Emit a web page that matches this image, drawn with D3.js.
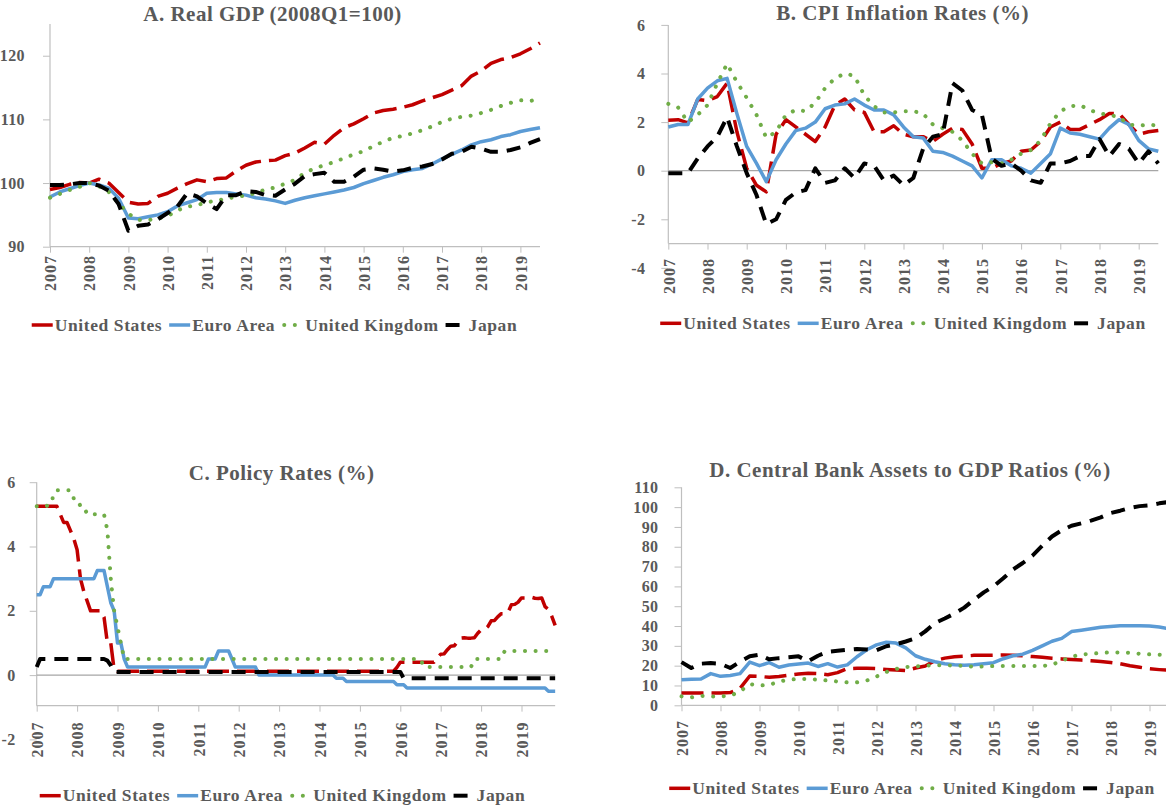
<!DOCTYPE html>
<html><head><meta charset="utf-8">
<script src="https://cdn.jsdelivr.net/npm/d3@7/dist/d3.min.js"></script>
<style>
html,body{margin:0;padding:0;background:#fff;}
svg{display:block;}
text{font-family:"Liberation Serif","Times New Roman",serif;font-weight:bold;fill:#595959;}
</style></head><body>
<svg id="chart" width="1166" height="807"></svg>
<script>
// ---------- labels ----------
const yearLabels = ["2007","2008","2009","2010","2011","2012","2013","2014","2015","2016","2017","2018","2019"];
const seriesNames = ["United States","Euro Area","United Kingdom","Japan"];
const titles = ["A. Real GDP (2008Q1=100)","B. CPI Inflation Rates (%)","C. Policy Rates (%)","D. Central Bank Assets to GDP Ratios (%)"];

// ---------- Panel A: Real GDP, quarterly 2007Q1-2019Q3 ----------
const gdpUS = [99.0,99.3,99.8,100.1,100.0,100.6,100.0,98.5,97.0,96.7,96.8,97.9,98.4,99.2,99.9,100.5,100.2,100.7,100.8,101.9,102.8,103.3,103.5,103.6,104.3,104.7,105.5,106.4,106.1,107.5,108.7,109.3,110.1,111.0,111.4,111.6,111.9,112.3,112.9,113.4,113.9,114.6,115.3,116.8,117.6,118.8,119.4,119.7,120.3,121.1,122.0];
const gdpEA = [97.8,98.6,99.1,99.6,100.0,99.7,99.2,97.6,94.5,94.4,94.7,95.0,95.5,96.4,96.9,97.4,98.4,98.5,98.5,98.3,98.1,97.7,97.5,97.2,96.8,97.3,97.7,98.0,98.3,98.6,98.9,99.3,99.9,100.4,100.9,101.3,101.8,102.1,102.3,103.0,103.8,104.5,105.2,106.0,106.5,106.8,107.3,107.6,108.1,108.4,108.7];
const gdpUK = [97.7,98.3,98.9,99.4,100.0,99.5,98.6,96.8,95.2,94.2,94.2,94.4,94.8,95.7,96.3,96.5,97.0,97.2,97.6,97.8,98.1,98.4,99.0,99.3,99.9,100.5,101.6,102.3,102.8,103.3,103.9,104.5,105.0,105.8,106.5,107.1,107.4,107.8,108.3,108.9,109.6,110.1,110.4,110.6,111.0,111.5,112.1,112.6,113.0,112.9,113.2];
const gdpJP = [99.7,99.7,99.8,100.0,100.0,99.6,98.8,96.7,92.5,93.3,93.5,94.3,95.3,96.3,98.4,97.9,96.8,95.9,98.1,98.1,98.7,98.6,98.1,98.0,99.0,99.9,101.1,101.4,101.6,100.2,100.2,101.0,102.1,102.3,102.1,101.8,102.0,102.4,102.6,103.0,103.7,104.6,104.9,105.7,105.4,104.9,104.9,105.2,105.6,106.3,106.9];

// ---------- Panel B: CPI inflation, quarterly 2007Q1-2019Q3 ----------
const cpiUS = [2.08,2.1,1.97,2.93,2.88,3.05,3.6,1.6,0.1,-0.6,-0.87,1.5,2.1,1.8,1.5,1.2,1.8,2.7,2.95,2.5,2.4,1.6,1.6,1.85,1.5,1.4,1.4,1.2,1.5,1.75,1.7,1.1,0.1,0.1,0.3,0.4,0.8,0.85,1.2,1.8,2.0,1.7,1.7,1.9,2.1,2.35,2.35,1.9,1.5,1.6,1.65];
const cpiEA = [1.8,1.9,1.9,2.95,3.4,3.7,3.8,2.35,1.0,0.3,-0.45,0.45,1.1,1.65,1.75,2.0,2.55,2.7,2.75,2.95,2.7,2.5,2.5,2.3,1.8,1.4,1.35,0.8,0.75,0.6,0.4,0.2,-0.3,0.45,0.45,0.2,0.1,-0.1,0.3,0.7,1.75,1.55,1.5,1.4,1.3,1.75,2.1,1.9,1.25,0.9,0.8];
const cpiUK = [2.75,2.6,2.0,2.3,2.7,3.6,4.4,3.65,3.0,2.3,1.35,1.6,2.3,2.5,2.45,2.8,3.4,3.8,4.0,3.9,3.1,2.65,2.4,2.4,2.45,2.45,2.35,1.9,1.75,1.6,1.25,0.7,0.3,0.35,0.3,0.45,0.7,0.85,1.25,1.95,2.45,2.65,2.7,2.5,2.35,2.3,2.2,1.9,1.85,1.9,1.85];
const cpiJP = [-0.1,-0.1,-0.1,0.5,1.0,1.4,2.2,1.0,-0.1,-1.0,-2.2,-2.0,-1.2,-0.9,-0.8,0.1,-0.5,-0.4,0.1,-0.3,0.3,0.2,-0.4,-0.2,-0.6,-0.3,0.9,1.4,1.5,3.6,3.3,2.5,2.3,0.5,0.2,0.3,0.0,-0.4,-0.5,0.3,0.3,0.4,0.6,0.6,1.3,0.6,1.1,0.9,0.3,0.8,0.3];

// ---------- Panel C: Policy rates, monthly 2007M1-2019M11 ----------
const rateUS = [
5.25,5.25,5.25,5.25,5.25,5.25,5.25,5.0,4.75,4.75,4.5,4.25,
3.9,3.0,2.6,2.3,2.0,2.0,2.0,2.0,1.8,1.0,1.0,0.16,
0.12,0.12,0.12,0.12,0.12,0.12,0.12,0.12,0.12,0.12,0.12,0.12,
0.12,0.12,0.12,0.12,0.12,0.12,0.12,0.12,0.12,0.12,0.12,0.12,
0.12,0.12,0.12,0.12,0.12,0.12,0.12,0.12,0.12,0.12,0.12,0.12,
0.12,0.12,0.12,0.12,0.12,0.12,0.12,0.12,0.12,0.12,0.12,0.12,
0.12,0.12,0.12,0.12,0.12,0.12,0.12,0.12,0.12,0.12,0.12,0.12,
0.12,0.12,0.12,0.12,0.12,0.12,0.12,0.12,0.12,0.12,0.12,0.12,
0.12,0.12,0.12,0.12,0.12,0.12,0.12,0.12,0.12,0.12,0.12,0.24,
0.4,0.4,0.4,0.4,0.4,0.4,0.4,0.4,0.4,0.4,0.4,0.54,
0.65,0.66,0.79,0.9,0.91,1.04,1.15,1.16,1.15,1.15,1.16,1.3,
1.41,1.42,1.51,1.69,1.7,1.82,1.91,1.91,1.95,2.19,2.2,2.27,
2.4,2.4,2.41,2.42,2.39,2.38,2.4,2.13,2.04,1.83,1.55];
const rateEA = [
2.5,2.5,2.75,2.75,2.75,3.0,3.0,3.0,3.0,3.0,3.0,3.0,
3.0,3.0,3.0,3.0,3.0,3.0,3.25,3.25,3.25,2.75,2.25,2.0,
1.0,1.0,0.5,0.25,0.25,0.25,0.25,0.25,0.25,0.25,0.25,0.25,
0.25,0.25,0.25,0.25,0.25,0.25,0.25,0.25,0.25,0.25,0.25,0.25,
0.25,0.25,0.25,0.5,0.5,0.5,0.75,0.75,0.75,0.75,0.5,0.25,
0.25,0.25,0.25,0.25,0.25,0.25,0,0,0,0,0,0,
0,0,0,0,0,0,0,0,0,0,0,0,
0,0,0,0,0,-0.1,-0.1,-0.1,-0.2,-0.2,-0.2,-0.2,
-0.2,-0.2,-0.2,-0.2,-0.2,-0.2,-0.2,-0.2,-0.2,-0.2,-0.2,-0.3,
-0.3,-0.3,-0.4,-0.4,-0.4,-0.4,-0.4,-0.4,-0.4,-0.4,-0.4,-0.4,
-0.4,-0.4,-0.4,-0.4,-0.4,-0.4,-0.4,-0.4,-0.4,-0.4,-0.4,-0.4,
-0.4,-0.4,-0.4,-0.4,-0.4,-0.4,-0.4,-0.4,-0.4,-0.4,-0.4,-0.4,
-0.4,-0.4,-0.4,-0.4,-0.4,-0.4,-0.4,-0.4,-0.5,-0.5,-0.5];
const rateUK = [
5.25,5.25,5.25,5.25,5.5,5.5,5.75,5.75,5.75,5.75,5.75,5.5,
5.5,5.25,5.25,5.0,5.0,5.0,5.0,5.0,5.0,4.5,3.0,2.0,
1.5,1.0,0.5,0.5,0.5,0.5,0.5,0.5,0.5,0.5,0.5,0.5,
0.5,0.5,0.5,0.5,0.5,0.5,0.5,0.5,0.5,0.5,0.5,0.5,
0.5,0.5,0.5,0.5,0.5,0.5,0.5,0.5,0.5,0.5,0.5,0.5,
0.5,0.5,0.5,0.5,0.5,0.5,0.5,0.5,0.5,0.5,0.5,0.5,
0.5,0.5,0.5,0.5,0.5,0.5,0.5,0.5,0.5,0.5,0.5,0.5,
0.5,0.5,0.5,0.5,0.5,0.5,0.5,0.5,0.5,0.5,0.5,0.5,
0.5,0.5,0.5,0.5,0.5,0.5,0.5,0.5,0.5,0.5,0.5,0.5,
0.5,0.5,0.5,0.5,0.5,0.5,0.5,0.25,0.25,0.25,0.25,0.25,
0.25,0.25,0.25,0.25,0.25,0.25,0.25,0.25,0.25,0.25,0.5,0.5,
0.5,0.5,0.5,0.5,0.5,0.5,0.5,0.75,0.75,0.75,0.75,0.75,
0.75,0.75,0.75,0.75,0.75,0.75,0.75,0.75,0.75,0.75,0.75];
const rateJP = [
0.25,0.5,0.5,0.5,0.5,0.5,0.5,0.5,0.5,0.5,0.5,0.5,
0.5,0.5,0.5,0.5,0.5,0.5,0.5,0.5,0.5,0.45,0.3,0.1,
0.1,0.1,0.1,0.1,0.1,0.1,0.1,0.1,0.1,0.1,0.1,0.1,
0.1,0.1,0.1,0.1,0.1,0.1,0.1,0.1,0.1,0.1,0.1,0.1,
0.1,0.1,0.1,0.1,0.1,0.1,0.1,0.1,0.1,0.1,0.1,0.1,
0.1,0.1,0.1,0.1,0.1,0.1,0.1,0.1,0.1,0.1,0.1,0.1,
0.1,0.1,0.1,0.1,0.1,0.1,0.1,0.1,0.1,0.1,0.1,0.1,
0.1,0.1,0.1,0.1,0.1,0.1,0.1,0.1,0.1,0.1,0.1,0.1,
0.1,0.1,0.1,0.1,0.1,0.1,0.1,0.1,0.1,0.1,0.1,0.1,
0.1,-0.1,-0.1,-0.1,-0.1,-0.1,-0.1,-0.1,-0.1,-0.1,-0.1,-0.1,
-0.1,-0.1,-0.1,-0.1,-0.1,-0.1,-0.1,-0.1,-0.1,-0.1,-0.1,-0.1,
-0.1,-0.1,-0.1,-0.1,-0.1,-0.1,-0.1,-0.1,-0.1,-0.1,-0.1,-0.1,
-0.1,-0.1,-0.1,-0.1,-0.1,-0.1,-0.1,-0.1,-0.1,-0.1,-0.1];

// ---------- Panel D: Central bank assets / GDP, quarterly 2007Q1-2019Q3 ----------
const cbUS = [6.2,6.2,6.2,6.2,6.2,6.4,8.5,14.8,14.6,14.1,14.5,15.2,15.8,16.2,16.0,15.4,16.5,18.5,18.7,18.7,18.5,18.1,17.8,17.5,18.8,19.8,22.5,23.8,24.5,24.8,25.2,25.2,25.3,25.4,25.2,25.0,24.6,24.2,23.7,23.4,23.1,22.8,22.5,22.1,21.6,21.0,20.0,19.2,18.4,18.0,17.7];
const cbEA = [12.9,13.2,13.3,16.0,14.6,15.0,16.0,21.8,20.0,21.5,19.2,20.3,20.8,21.3,19.6,21.0,19.3,20.4,24.5,28.0,30.5,31.8,31.4,29.0,25.0,23.2,22.0,21.0,20.5,20.2,20.5,21.0,21.5,23.5,25.0,25.8,27.7,30.0,32.3,33.8,37.2,37.9,38.6,39.4,39.8,40.2,40.2,40.2,40.0,39.5,38.6];
const cbUK = [4.5,4.0,4.8,4.5,4.5,4.8,7.0,10.7,10.0,10.3,12.0,12.9,13.3,13.3,12.9,12.5,12.0,11.6,11.6,12.5,14.5,16.8,18.3,19.3,19.6,20.0,20.2,20.3,20.0,20.0,19.4,19.6,19.8,19.8,19.8,19.8,19.8,19.8,20.5,22.5,24.5,25.6,26.0,26.4,26.7,26.7,26.5,26.0,25.7,25.5,25.3];
const cbJP = [21.8,18.8,21.0,21.3,21.0,18.8,22.0,24.7,25.5,23.2,23.8,24.2,24.7,22.2,25.0,27.0,27.5,28.0,28.4,28.2,27.8,29.8,30.8,32.2,33.8,37.3,41.5,43.8,46.3,49.3,53.2,57.0,60.0,64.1,68.5,71.8,75.5,80.5,85.2,88.3,90.6,91.8,93.2,94.8,97.0,98.2,99.6,100.5,100.9,101.9,102.6];

// ---------- drawing ----------
const svg = d3.select("#chart");
svg.append("rect").attr("width",1166).attr("height",807).attr("fill","#ffffff");

const styles = [
  {color:"#C00000", width:3.5, dash:"22,8", cap:"butt"},
  {color:"#5B9BD5", width:3.5, dash:null, cap:"butt"},
  {color:"#70AD47", width:4, dash:"0.1,10.5", cap:"round"},
  {color:"#000000", width:4, dash:"14,9", cap:"butt"}
];
const AXIS = "#BFBFBF", ZERO = "#A6A6A6";
const numFmt = d => String(d);   // plain hyphen minus, as in the reference

function drawPanel(cfg){
  const g = svg.append("g");
  const x = d3.scaleLinear().domain([2007,2019]).range([cfg.x0, cfg.x0 + 12*cfg.yearW]);
  const y = d3.scaleLinear().domain(cfg.yDomain).range(cfg.yRange);
  const yearVals = yearLabels.map(Number);

  // title
  g.append("text").attr("x",cfg.titleX).attr("y",cfg.titleY)
    .attr("text-anchor","middle").style("font-size","21px").style("letter-spacing","0.5px")
    .text(cfg.title);

  // y axis ticks + labels
  const ya = g.append("g").attr("transform",`translate(${cfg.x0},0)`)
    .call(d3.axisLeft(y).tickValues(cfg.yTicks).tickSize(7).tickPadding(cfg.yPad).tickFormat(numFmt));
  ya.select(".domain").remove();
  ya.selectAll(".tick line").attr("stroke",AXIS).attr("stroke-width",1);
  ya.selectAll(".tick text").style("font-size","16px").style("letter-spacing","0.4px");

  // vertical axis line
  g.append("line").attr("x1",cfg.x0).attr("x2",cfg.x0)
    .attr("y1",y(cfg.yDomain[1])).attr("y2",y(cfg.cross))
    .attr("stroke",AXIS).attr("stroke-width",1.2);

  // horizontal category axis
  const axisY = y(cfg.cross);
  const xa = g.append("g").attr("transform",`translate(0,${axisY})`)
    .call(d3.axisBottom(x).tickValues(yearVals).tickSize(6).tickSizeOuter(0)
      .tickFormat((d,i)=>yearLabels[i]));
  xa.select(".domain").remove();
  xa.selectAll(".tick line").attr("stroke",AXIS).attr("stroke-width",1);
  xa.selectAll(".tick text")
    .attr("transform","rotate(-90)")
    .attr("x",-(cfg.labelTop - axisY)).attr("y",0).attr("dy","0.36em")
    .attr("text-anchor","end")
    .style("font-size","16px").style("letter-spacing","1px");
  g.append("line").attr("x1",cfg.x0).attr("x2",x(cfg.xEnd))
    .attr("y1",axisY).attr("y2",axisY).attr("stroke",AXIS).attr("stroke-width",1.2);

  // zero line
  if (cfg.zero){
    g.append("line").attr("x1",cfg.x0).attr("x2",x(cfg.xEnd))
      .attr("y1",y(0)).attr("y2",y(0)).attr("stroke",ZERO).attr("stroke-width",1.2);
  }

  // series
  cfg.series.forEach((vals,k)=>{
    const st = styles[k];
    const line = d3.line().x((d,i)=>x(2007 + i/cfg.perYear)).y(d=>y(d));
    g.append("path").datum(vals).attr("d",line)
      .attr("fill","none").attr("stroke",st.color).attr("stroke-width",st.width)
      .attr("stroke-dasharray",st.dash).attr("stroke-linecap",st.cap)
      .attr("stroke-linejoin","round");
  });

  // legend
  const lg = g.append("g");
  let xpos = 0;
  seriesNames.forEach((name,k)=>{
    const st = styles[k];
    const it = lg.append("g").attr("transform",`translate(${xpos},0)`);
    it.append("line").attr("x1",k===2?2:0).attr("x2",21).attr("y1",0).attr("y2",0)
      .attr("stroke",st.color).attr("stroke-width",st.width)
      .attr("stroke-dasharray",st.dash).attr("stroke-linecap",st.cap);
    const t = it.append("text").attr("x",23).attr("y",0).attr("dy","0.33em")
      .style("font-size","17.5px").style("letter-spacing","0.6px").text(name);
    xpos += 23 + t.node().getComputedTextLength() + 7;
  });
  const total = xpos - 7;
  lg.attr("transform",`translate(${cfg.legendCX - total/2},${cfg.legendY})`);
}

drawPanel({title:titles[0], titleX:272.5, titleY:20.7,
  x0:50, yearW:39.2, xEnd:2019.5, perYear:4,
  yDomain:[90,125], yRange:[246.7,23.9], yTicks:[90,100,110,120], cross:90, zero:false, yPad:18,
  labelTop:255, legendCX:274.5, legendY:325,
  series:[gdpUS,gdpEA,gdpUK,gdpJP]});

drawPanel({title:titles[1], titleX:902.6, titleY:20.3,
  x0:668.3, yearW:39.2, xEnd:2019.5, perYear:4,
  yDomain:[-4,6], yRange:[267.9,24.9], yTicks:[-4,-2,0,2,4,6], cross:-3, zero:true, yPad:16,
  labelTop:258, legendCX:903, legendY:323.3,
  series:[cpiUS,cpiEA,cpiUK,cpiJP]});

drawPanel({title:titles[2], titleX:281.6, titleY:479.5,
  x0:36.7, yearW:40.4, xEnd:2019+10/12, perYear:12,
  yDomain:[-2,6], yRange:[739.4,482.2], yTicks:[-2,0,2,4,6], cross:-0.95, zero:true, yPad:14,
  labelTop:721.5, legendCX:282.5, legendY:795.7,
  series:[rateUS,rateEA,rateUK,rateJP]});

drawPanel({title:titles[3], titleX:910, titleY:477,
  x0:681.5, yearW:39, xEnd:2019.5, perYear:4,
  yDomain:[0,110], yRange:[705.3,487.3], yTicks:[0,10,20,30,40,50,60,70,80,90,100,110], cross:0, zero:false, yPad:16,
  labelTop:720, legendCX:912, legendY:788.3,
  series:[cbUS,cbEA,cbUK,cbJP]});
</script>
</body></html>
